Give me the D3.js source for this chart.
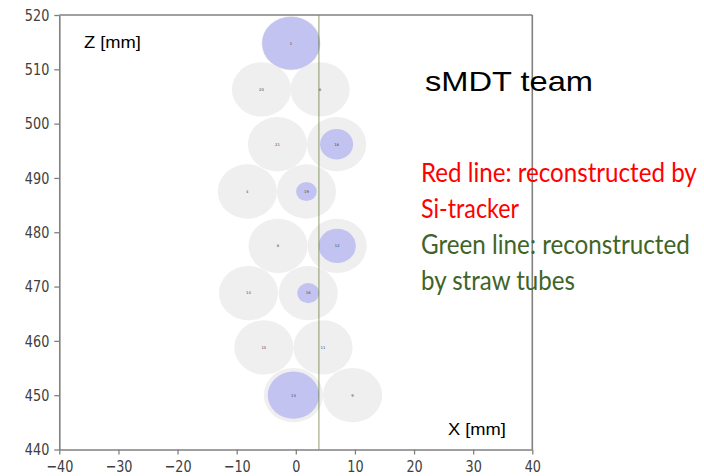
<!DOCTYPE html>
<html>
<head>
<meta charset="utf-8">
<script src="https://cdn.jsdelivr.net/npm/d3@7"></script>
<style>
  html, body { margin: 0; padding: 0; background: #fff; }
  svg { display: block; }
</style>
</head>
<body>
<svg id="chart" width="704" height="476"></svg>
<script>
// Tube layout of the sMDT chamber section (X, Z in mm) and hit drift radii
const tubeIds = ["1", "20", "8", "21", "18", "4", "19", "8", "12", "14", "16", "15", "11", "13", "9"];
const tubeX   = [-0.8, -5.8, 4.1, -3.1, 6.9, -8.2, 1.8, -3.0, 7.0, -8.0, 2.1, -5.4, 4.6, -0.4, 9.6];
const tubeZ   = [514.8, 506.3, 506.3, 496.2, 496.2, 487.5, 487.5, 477.5, 477.5, 468.8, 468.8, 458.8, 458.8, 450.0, 450.0];
const tubeRadius = 5;

// Tubes with a hit and their drift-circle radius (mm)
const hitIds   = ["1", "18", "19", "12", "16", "13"];
const hitIndex = [0, 4, 6, 8, 10, 13];
const hitR     = [4.9, 2.8, 1.75, 3.15, 1.85, 4.35];

// Reconstructed tracks: vertical lines at fixed X (mm)
const redTrackX = 3.95;
const greenTrackX = 3.85;

// Axis ticks
const xTicks = [-40, -30, -20, -10, 0, 10, 20, 30, 40];
const zTicks = [440, 450, 460, 470, 480, 490, 500, 510, 520];

const svg = d3.select("#chart");
const plotLeft = 59.3, plotRight = 532.3, plotTop = 15, plotBottom = 449.5;

const x = d3.scaleLinear().domain([-40, 40]).range([plotLeft, plotRight]);
const z = d3.scaleLinear().domain([440, 520]).range([plotBottom, plotTop]);
const rx = r => x(r) - x(0);
const rz = r => z(440) - z(440 + r);

const plot = svg.append("g");

const tubes = tubeIds.map((id, i) => ({ id, x: tubeX[i], z: tubeZ[i] }));
const hits = hitIds.map((id, i) => ({ id, x: tubeX[hitIndex[i]], z: tubeZ[hitIndex[i]], r: hitR[i] }));

// Tubes
plot.selectAll("ellipse.tube")
  .data(tubes)
  .join("ellipse")
  .attr("class", "tube")
  .attr("cx", d => x(d.x))
  .attr("cy", d => z(d.z))
  .attr("rx", rx(tubeRadius))
  .attr("ry", rz(tubeRadius))
  .attr("fill", "#efefef");

// Drift circles
plot.selectAll("ellipse.hit")
  .data(hits)
  .join("ellipse")
  .attr("class", "hit")
  .attr("cx", d => x(d.x))
  .attr("cy", d => z(d.z))
  .attr("rx", d => rx(d.r))
  .attr("ry", d => rz(d.r))
  .attr("fill", "#c3c3f1");

// Tube number labels
plot.selectAll("text.tid")
  .data(tubes)
  .join("text")
  .attr("class", "tid")
  .attr("x", d => x(d.x))
  .attr("y", d => z(d.z))
  .attr("dy", "0.35em")
  .attr("text-anchor", "middle")
  .attr("font-family", "DejaVu Sans")
  .attr("font-size", 3.8)
  .attr("fill", "#444")
  .text(d => d.id);

// Track lines
plot.append("line")
  .attr("x1", x(greenTrackX)).attr("x2", x(greenTrackX))
  .attr("y1", z(440)).attr("y2", z(520))
  .attr("stroke", "green").attr("stroke-opacity", 0.28).attr("stroke-width", 1);
plot.append("line")
  .attr("x1", x(redTrackX)).attr("x2", x(redTrackX))
  .attr("y1", z(440)).attr("y2", z(520))
  .attr("stroke", "#b33").attr("stroke-opacity", 0.4).attr("stroke-width", 1);

// Axes
const axisColor = "#808080";
const xAxis = svg.append("g")
  .attr("transform", `translate(0,${plotBottom})`)
  .call(d3.axisBottom(x).tickValues(xTicks).tickSize(5).tickPadding(6).tickSizeOuter(0));
const zAxis = svg.append("g")
  .attr("transform", `translate(${plotLeft},0)`)
  .call(d3.axisLeft(z).tickValues(zTicks).tickSize(5).tickPadding(5).tickSizeOuter(0));

[xAxis, zAxis].forEach(g => {
  g.select(".domain").attr("stroke", axisColor).attr("stroke-width", 1.6);
  g.selectAll(".tick line").attr("stroke", axisColor).attr("stroke-width", 1.3);
  g.selectAll(".tick text")
    .attr("font-family", "DejaVu Sans")
    .attr("font-size", 16)
    .attr("fill", "#404040")
    .each(function () {
      const w = this.getComputedTextLength();
      d3.select(this).attr("textLength", w * 0.8).attr("lengthAdjust", "spacingAndGlyphs");
    });
});

// Top and right frame
svg.append("line").attr("x1", plotLeft).attr("x2", plotRight).attr("y1", plotTop).attr("y2", plotTop)
  .attr("stroke", axisColor).attr("stroke-width", 1.6);
svg.append("line").attr("x1", plotRight).attr("x2", plotRight).attr("y1", plotTop).attr("y2", plotBottom)
  .attr("stroke", axisColor).attr("stroke-width", 1.6);

// Fit a text to a target width by its font size, keeping the glyph height of baseSize
function fitText(sel, family, baseSize, x0, y0, width) {
  sel.attr("font-family", family).attr("font-size", baseSize);
  const natural = sel.node().getComputedTextLength();
  const size = baseSize * width / natural;
  sel.attr("font-size", size)
    .attr("transform", `translate(${x0},${y0}) scale(1,${baseSize / size})`);
}

// Axis titles
fitText(svg.append("text").attr("fill", "#000").text("Z [mm]"), "Liberation Sans", 16, 84, 48, 57);
fitText(svg.append("text").attr("fill", "#000").text("X [mm]"), "Liberation Sans", 17, 448, 435, 58);

// Annotations
fitText(svg.append("text").attr("fill", "#000").text("sMDT team"), "Liberation Sans", 27, 425, 91, 168);

const notes = [
  { text: "Red line: reconstructed by", y: 182, w: 276, color: "#ff0000" },
  { text: "Si-tracker", y: 218, w: 98, color: "#ff0000" },
  { text: "Green line: reconstructed", y: 254, w: 269, color: "#3f6427" },
  { text: "by straw tubes", y: 290, w: 154, color: "#3f6427" }
];
notes.forEach(d => {
  fitText(svg.append("text").attr("fill", d.color).text(d.text), "Lato", 26, 421, d.y, d.w);
});
</script>
</body>
</html>
